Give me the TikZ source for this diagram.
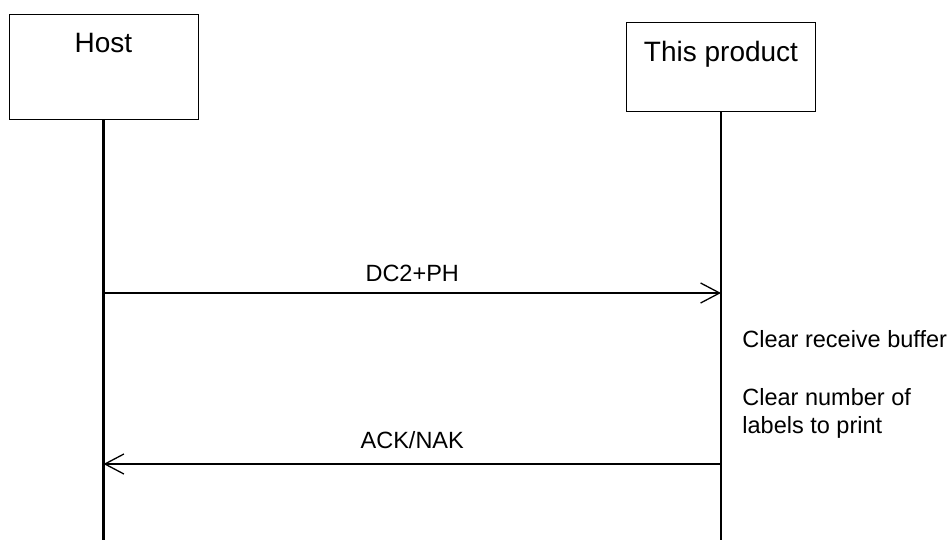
\documentclass[tikz,border=0pt]{standalone}
\usepackage{fontspec}
\setmainfont{Liberation Sans}
\usetikzlibrary{arrows.meta,positioning}

\tikzset{
  party/.style={draw, line width=0.5pt, inner sep=0pt, minimum width=94.5pt},
  partyname/.style={inner sep=0pt, font=\fontsize{14}{17}\selectfont},
  lifeline/.style={line width=1.4pt},
  msg/.style={line width=0.65pt, -{Straight Barb[length=9.5pt, width=10pt, line width=0.65pt]}},
  msgtext/.style={inner sep=0pt, font=\fontsize{11.75}{14}\selectfont},
  note/.style={inner sep=0pt, align=left, font=\fontsize{11.75}{14}\selectfont},
}

\begin{document}
\begin{tikzpicture}[x=0.5pt, y=-0.5pt]
  \useasboundingbox (0,0) rectangle (952,540);
  % the two parties
  \node (host) [party, minimum height=52.5pt] at (103.5,67.5) {};
  \node (prod) [party, minimum height=44.5pt] at (721,67.5) {};
  \node (hostname) [partyname, below=9pt of host.north] {Host};
  \node (prodname) [partyname, below=9pt of prod.north] {This product};
  % lifelines
  \coordinate (bottom) at (0,540);
  \coordinate (m1) at (0,293);
  \coordinate (m2) at (0,464);
  \draw[lifeline] (host.south) -- (host.south |- bottom);
  \draw[lifeline] (prod.south) -- (prod.south |- bottom);
  % messages
  \draw[msg] (host.south |- m1) -- (prod.south |- m1)
    node (dcph) [msgtext, midway, above=5.5pt] {DC2+PH};
  \draw[msg] (prod.south |- m2) -- (host.south |- m2)
    node (acknak) [msgtext, midway, above=7.5pt] {ACK/NAK};
  % actions of this product
  \node (clearbuf) [note, anchor=base west] at (742,347) {Clear receive buffer};
  \node (clearnum) [note, anchor=north west] at (742,388) {Clear number of\\labels to print};
\end{tikzpicture}
\end{document}
